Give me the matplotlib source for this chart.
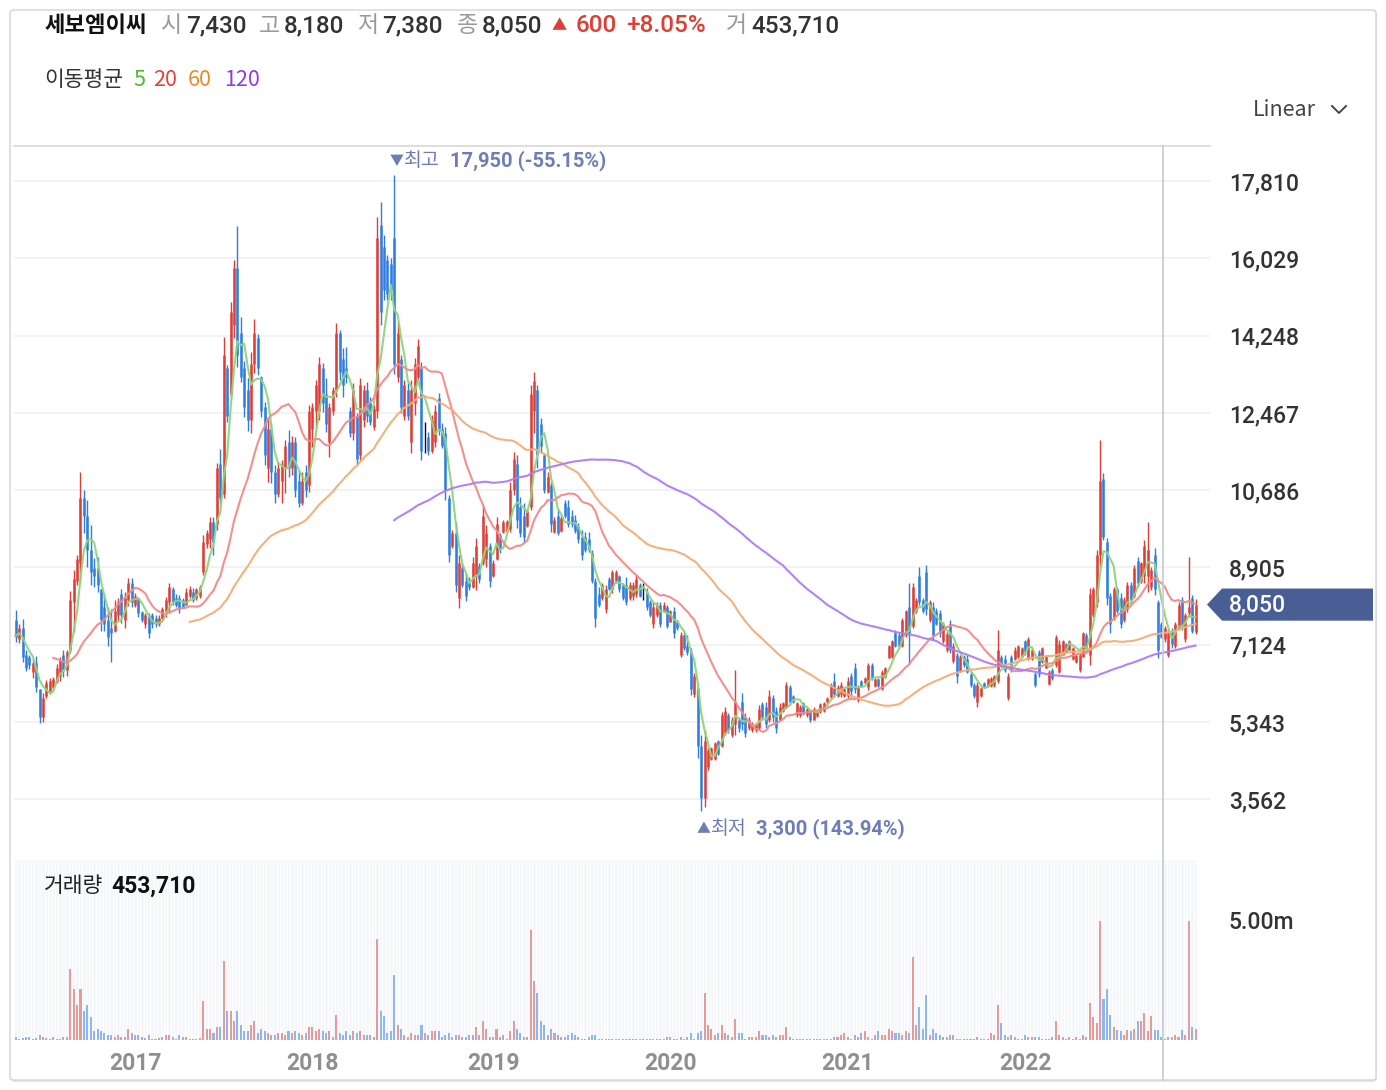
import numpy as np
import pandas as pd
import matplotlib
matplotlib.use('Agg')
import matplotlib.pyplot as plt
import matplotlib.transforms as mtransforms
from matplotlib.patches import FancyBboxPatch, Polygon
from matplotlib.lines import Line2D

plt.rcParams['font.family'] = ['Noto Sans CJK KR', 'DejaVu Sans']
NUM = ['Roboto', 'DejaVu Sans']  # digits

W, H = 1386, 1090

# weekly candles: (open, high, low, close)
# the first 8 weeks sit left of the visible window, they only feed the moving averages
ohlc_warmup = [
    (7200, 7350, 7000, 7100), (7100, 7400, 7050, 7250), (7250, 7600, 7200, 7400), (7400, 7500, 7200, 7350),
    (7350, 7400, 7100, 7200), (7200, 7450, 7150, 7300), (7300, 7600, 7250, 7450), (7450, 7550, 7300, 7400),
]
ohlc_2016 = [
    (7700, 7930, 7190, 7300), (7250, 7600, 7170, 7500), (7500, 7720, 6720, 6850), (6900, 7000, 6520, 6600),
    (6850, 6900, 6560, 6650), (6500, 6800, 6350, 6700), (6700, 6870, 6040, 6150), (6100, 6100, 5330, 5450),
    (5450, 6010, 5350, 5900), (5950, 6310, 5900, 6250),
    (6050, 6350, 6000, 6300), (6150, 6380, 6080, 6330), (6300, 6680, 6250, 6600), (6400, 6840, 6290, 6780),
    (6900, 7000, 6380, 6550), (6550, 7000, 6400, 6950), (7000, 8360, 6930, 8150), (8100, 8850, 7420, 8650),
    (8600, 9200, 8500, 9100), (9000, 11100, 8550, 10500), (10500, 10700, 9700, 10100),
    (10100, 10460, 8920, 9300), (9300, 9880, 8500, 8800), (8900, 9120, 8460, 8700), (8900, 9140, 8330, 8500),
    (8400, 8420, 7450, 7700), (8000, 8300, 7450, 7600), (7700, 8000, 7100, 7300), (7500, 7950, 6730, 7400),
    (7450, 8160, 7420, 7900), (7800, 8200, 7700, 8100),
]
ohlc_2016_17 = [
    (8300, 8410, 7630, 7800), (7700, 8340, 7510, 8200), (8150, 8660, 8020, 8550), (8550, 8660, 7990, 8100),
    (8050, 8320, 7990, 8250), (8200, 8230, 7760, 7850), (7880, 7900, 7650, 7700), (7600, 7860, 7510, 7800),
    (7800, 7860, 7280, 7400), (7800, 7860, 7510, 7600), (7750, 7810, 7530, 7600), (7600, 7810, 7560, 7750),
    (7750, 7990, 7700, 7950), (7900, 8230, 7760, 8150), (8100, 8550, 7860, 8450), (8400, 8460, 8040, 8100),
    (8200, 8300, 8000, 8050), (8200, 8270, 7860, 7950), (8150, 8200, 7970, 8000), (8050, 8430, 8040, 8350),
    (8250, 8480, 8200, 8400), (8350, 8430, 8110, 8150), (8200, 8430, 8160, 8400), (8250, 8500, 8200, 8450),
    (8800, 9650, 8730, 9500), (9450, 9770, 9350, 9700),
]
ohlc_2017_18 = [
    (9550, 10070, 9350, 9950), (9950, 10070, 9190, 9500), (9900, 11310, 9770, 11200), (11300, 11630, 10390, 10500),
    (10600, 14220, 10500, 13800), (13500, 13570, 12260, 12400), (12900, 15020, 12810, 14800), (14500, 15990, 14190, 15800),
    (15800, 16770, 13520, 13800), (14300, 14680, 13180, 13300),
    (13500, 13660, 12370, 12600), (13000, 13270, 12040, 12300), (12300, 13870, 12000, 13600), (13600, 14630, 13390, 14300),
    (14200, 14280, 13340, 13500), (13300, 13320, 12370, 12500), (12600, 12720, 11270, 11500), (11200, 12370, 10880, 12100),
    (12100, 12230, 10850, 11100), (11100, 11270, 10390, 10600),
    (10600, 11340, 10530, 11200), (10900, 11380, 10390, 11300), (11200, 11840, 10620, 11700), (11800, 12070, 10990, 11200),
    (11200, 11940, 11040, 11800), (11800, 11910, 10530, 10700), (10900, 11150, 10300, 10400), (10400, 11100, 10350, 10900),
    (11100, 11270, 10530, 10700), (10800, 12650, 10640, 12500),
    (12100, 12700, 11680, 12600), (12500, 13230, 12120, 13100), (12500, 13760, 12300, 13600), (13500, 13620, 12490, 12700),
    (12900, 13270, 12030, 12200), (11800, 12700, 11450, 12600), (12500, 13060, 12420, 13000), (13000, 14540, 12830, 14300),
    (14300, 14380, 13230, 13400), (13700, 13960, 12830, 13100),
    (13500, 13990, 13160, 13300), (12500, 12600, 11910, 12000), (12000, 13160, 11840, 13000), (12400, 12470, 11270, 11400),
    (11500, 13270, 11380, 13100), (12300, 13110, 12140, 13000), (13000, 13180, 12260, 12400), (12700, 12830, 12190, 12250),
    (12150, 12650, 12070, 12550), (12500, 16980, 12350, 16500),
    (16800, 17330, 14490, 14800), (16300, 16570, 15070, 15300), (16000, 16110, 15070, 15200), (15900, 16040, 15070, 15300),
    (16500, 17950, 13370, 13600), (13300, 14560, 13180, 14300), (13700, 13800, 12460, 12600), (12400, 13230, 12300, 13100),
    (13000, 13160, 12300, 12400), (11800, 13230, 11540, 13000),
    (12700, 13730, 12420, 13600), (13300, 14170, 13160, 14000), (13500, 13640, 11380, 11600), (11900, 12260, 11540, 11900),
    (11900, 12030, 11500, 11600), (11600, 12420, 11540, 12300), (11800, 12650, 11680, 12500), (12800, 12930, 11960, 12100),
    (12100, 12230, 11660, 11700), (12000, 12140, 10460, 10700),
    (10500, 10580, 9030, 9200),
]
ohlc_2018_20 = [
    (9400, 9770, 9360, 9700), (9700, 9950, 8340, 8500), (8200, 9190, 7970, 9000), (8900, 9010, 8460, 8500),
    (8600, 8780, 8130, 8250), (8600, 8690, 8390, 8450), (8450, 9150, 8430, 9000), (8700, 9590, 8390, 9400),
    (8950, 9010, 8550, 8650), (9000, 10350, 8960, 10100),
    (9100, 9880, 8920, 9700), (9400, 9470, 8460, 8600), (8700, 9080, 8690, 9000), (9100, 10070, 9080, 9900),
    (9650, 9700, 9240, 9350), (9720, 10000, 9700, 9950), (9750, 10000, 9700, 9980), (9800, 10880, 9720, 10700),
    (10700, 11570, 10580, 11400), (11300, 11500, 9820, 10000),
    (10300, 10530, 9610, 9700), (10100, 10390, 9490, 9600), (9850, 10230, 9840, 10200), (10300, 13110, 10230, 12900),
    (12500, 13410, 12000, 13200), (13000, 13110, 11200, 11500), (12200, 12350, 11540, 11700), (11500, 11540, 10620, 10700),
    (10650, 11100, 10620, 11000), (10800, 10880, 9720, 9900),
    (9720, 10070, 9700, 10000), (10100, 10230, 9650, 9700), (9750, 10110, 9720, 10050), (10400, 10460, 10050, 10100),
    (10300, 10460, 9840, 9900), (10100, 10230, 9840, 9900), (10000, 10110, 9700, 9750), (9850, 9930, 9470, 9550),
    (9600, 9770, 9080, 9200), (9600, 9720, 9260, 9300),
    (9550, 9720, 9260, 9300), (9250, 9310, 8550, 8600), (8600, 8660, 7530, 7750), (8300, 8450, 8000, 8050),
    (8200, 8550, 8160, 8500), (7950, 8500, 7860, 8400), (8650, 8690, 8390, 8400), (8400, 8850, 8320, 8800),
    (8560, 8850, 8550, 8800), (8700, 8730, 8340, 8400),
    (8500, 8550, 8160, 8200), (8500, 8690, 8040, 8100), (8200, 8570, 8160, 8500), (8250, 8570, 8160, 8500),
    (8300, 8730, 8230, 8650), (8500, 8550, 8230, 8250), (8400, 8550, 8160, 8400), (8350, 8430, 7930, 8000),
    (8100, 8160, 7760, 7800), (7600, 8110, 7510, 8000),
    (7800, 8110, 7760, 8050), (8050, 8110, 7530, 7600), (7900, 8110, 7880, 8050), (8000, 8040, 7510, 7550),
    (7660, 7930, 7650, 7900), (7900, 8000, 7280, 7400),
]
ohlc_2020 = [
    (7650, 7700, 7470, 7500), (6900, 7420, 6840, 7350), (7350, 7420, 7000, 7050), (7100, 7350, 6890, 6950),
    (6950, 7050, 5970, 6100), (6000, 6470, 5920, 6400), (6100, 6150, 4520, 4800), (4800, 5040, 3300, 3600),
    (3600, 5160, 3390, 4900), (4300, 4750, 4240, 4700),
    (4500, 4770, 4470, 4750), (4500, 4880, 4470, 4850), (4900, 4930, 4580, 4600), (4800, 5570, 4770, 5500),
    (5100, 5690, 5040, 5600), (5500, 5550, 5090, 5150), (5050, 5460, 5000, 5400), (5300, 6540, 5040, 5800),
    (5400, 5460, 5120, 5200), (5800, 6010, 5160, 5300),
    (5450, 5550, 5000, 5100), (5200, 5460, 5160, 5400), (5150, 5350, 5120, 5300), (5150, 5320, 5120, 5300),
    (5200, 5740, 5160, 5650), (5750, 5810, 5390, 5450), (5700, 5810, 5210, 5300), (5400, 6080, 5350, 5950),
    (5900, 5970, 5350, 5450), (5600, 5690, 5090, 5200),
    (5400, 5780, 5390, 5700), (5600, 5810, 5580, 5780), (5700, 6270, 5670, 6200), (6150, 6200, 5740, 5800),
    (5950, 5970, 5790, 5800), (5500, 5810, 5470, 5780), (5500, 5740, 5470, 5700), (5780, 5810, 5510, 5550),
    (5500, 5690, 5460, 5650), (5600, 5620, 5350, 5400),
    (5400, 5690, 5390, 5650), (5480, 5620, 5460, 5600), (5580, 5780, 5560, 5750), (5600, 5810, 5580, 5780),
    (5800, 5920, 5790, 5900), (5920, 6250, 5900, 6200), (6300, 6480, 5920, 6000), (5950, 6200, 5920, 6150),
    (6000, 6270, 5920, 6200), (5950, 6150, 5920, 6100),
    (5950, 6380, 5900, 6300), (6400, 6480, 5920, 6050), (6600, 6710, 6010, 6100),
]
ohlc_2021_22 = [
    (5850, 6200, 5810, 6150), (6300, 6310, 6150, 6170), (6250, 6380, 6240, 6360), (6150, 6700, 6080, 6650),
    (6650, 6700, 6310, 6350), (6170, 6360, 6150, 6340), (6340, 6360, 6150, 6170), (6100, 6540, 6080, 6500),
    (6380, 6610, 6360, 6600), (6830, 7120, 6820, 7100),
    (6850, 7230, 6820, 7200), (7400, 7460, 7070, 7100), (7350, 7420, 7050, 7100), (7100, 7740, 7070, 7700),
    (7350, 7930, 7300, 7900), (8000, 8550, 6700, 7400), (7550, 8550, 7510, 8450), (7900, 8200, 7860, 8150),
    (8700, 8920, 8040, 8100), (8150, 8200, 7860, 7900),
    (8800, 8960, 7810, 7950), (7700, 8160, 7650, 8100), (8000, 8110, 7240, 7350), (7900, 7970, 7580, 7600),
    (7850, 7930, 7300, 7400), (7200, 7650, 7170, 7600), (7000, 7420, 6960, 7380), (7600, 7700, 6940, 7000),
    (6750, 7170, 6710, 7100), (6900, 6940, 6240, 6400),
    (6520, 6890, 6500, 6850), (6850, 6890, 6610, 6650), (6800, 6890, 6470, 6500), (6450, 6500, 6160, 6200),
    (6200, 6240, 5900, 5950), (5800, 6270, 5690, 6200), (5950, 6150, 5920, 6120), (6250, 6270, 6130, 6150),
    (6170, 6360, 6150, 6330),
    (6170, 6380, 6150, 6350), (6200, 6430, 6150, 6400), (6300, 7460, 6240, 7000), (6850, 6890, 6610, 6650),
    (6800, 6890, 6500, 6550), (5900, 6470, 5850, 6400), (6850, 6890, 6500, 6550), (6800, 7070, 6780, 7000),
    (6850, 7120, 6820, 7100), (6850, 7070, 6840, 7050),
    (7200, 7230, 6890, 6950), (6800, 7300, 6780, 7250), (6800, 7050, 6780, 7000), (6450, 6500, 6150, 6200),
    (6950, 7000, 6380, 6450), (6720, 7070, 6700, 7050), (6600, 6890, 6590, 6870), (6220, 6550, 6200, 6500),
    (6550, 6590, 6310, 6350), (6650, 7350, 6610, 7300),
    (6500, 7230, 6470, 7150), (6900, 7230, 6890, 7200), (7150, 7160, 6930, 6950), (7000, 7230, 7000, 7200),
    (6800, 7070, 6780, 7050), (6720, 6890, 6700, 6880), (6550, 6940, 6500, 6900), (6850, 7420, 6840, 7400),
    (7350, 7390, 6960, 7000), (6900, 8430, 6660, 8300),
    (7800, 8460, 7760, 8400), (8100, 9310, 8000, 9200),
]
ohlc_2022 = [
    (9200, 11850, 8920, 10900), (10950, 11080, 9540, 9600), (9500, 9580, 8040, 8200), (8250, 8320, 7400, 7600),
    (7750, 8460, 7700, 8400), (8400, 8460, 7860, 7900), (8200, 8320, 7510, 7600), (7700, 8230, 7650, 8150),
    (7950, 8570, 7880, 8500), (8500, 8570, 8090, 8150),
    (8250, 8960, 8200, 8900), (9050, 9150, 8460, 8550), (8600, 9030, 8550, 9000), (8700, 9540, 8550, 9400),
    (8700, 9950, 8340, 9300), (8450, 8920, 8390, 8850), (9200, 9350, 8270, 8400), (8100, 8160, 6820, 7000),
    (7600, 7650, 7280, 7300),
    (7250, 7560, 7190, 7500), (6900, 7470, 6840, 7400), (7450, 7510, 7050, 7150), (7100, 7650, 7050, 7600),
    (7500, 8110, 7470, 8050), (8150, 8230, 7470, 7550), (7250, 7860, 7190, 7800), (7850, 9150, 7770, 8000),
    (8200, 8270, 7400, 7450), (7430, 8180, 7380, 8050),
]

# weekly volume, millions of shares
vol_warmup = [0.10, 0.10, 0.10, 0.10, 0.10, 0.10, 0.10, 0.10]
vol_2016 = [
    0.11, 0.05, 0.08, 0.11, 0.11, 0.05, 0.08, 0.21, 0.11, 0.08,
    0.05, 0.11, 0.05, 0.05, 0.11, 0.11, 2.96, 2.12, 1.46, 2.12, 1.20,
    1.46, 0.97, 0.375, 0.46, 0.375, 0.30, 0.21, 0.21, 0.11, 0.21,
]
vol_2016_17 = [
    0.11, 0.11, 0.46, 0.30, 0.21, 0.21, 0.11, 0.08, 0.21, 0.05,
    0.05, 0.08, 0.11, 0.21, 0.21, 0.11, 0.05, 0.21, 0.11, 0.11,
    0.05, 0.05, 0.05, 0.08, 1.62, 0.46,
]
vol_2017_18 = [
    0.46, 0.30, 0.54, 0.56, 3.30, 1.20, 1.20, 0.80, 1.20, 0.63,
    0.375, 0.375, 0.63, 0.79, 0.30, 0.46, 0.375, 0.30, 0.21, 0.21,
    0.30, 0.30, 0.21, 0.375, 0.30, 0.375, 0.30, 0.21, 0.30, 0.56,
    0.56, 0.375, 0.46, 0.375, 0.30, 0.375, 0.11, 1.04, 0.30, 0.21,
    0.375, 0.21, 0.375, 0.30, 0.375, 0.21, 0.21, 0.21, 0.11, 4.20,
    1.20, 0.98, 0.30, 0.375, 2.70, 0.63, 0.46, 0.21, 0.11, 0.30,
    0.21, 0.21, 0.63, 0.30, 0.21, 0.375, 0.375, 0.375, 0.11, 0.21,
    0.30,
]
vol_2018_20 = [
    0.11, 0.21, 0.21, 0.11, 0.11, 0.21, 0.21, 0.56, 0.21, 0.80,
    0.46, 0.11, 0.11, 0.46, 0.11, 0.21, 0.05, 0.375, 0.80, 0.46,
    0.30, 0.11, 0.11, 4.60, 2.46, 1.96, 0.80, 0.63, 0.21, 0.46,
    0.30, 0.21, 0.11, 0.11, 0.21, 0.30, 0.21, 0.11, 0.05, 0.05,
    0.11, 0.21, 0.21, 0.05, 0.04, 0.04, 0.05, 0.04, 0.04, 0.05,
    0.04, 0.04, 0.04, 0.05, 0.04, 0.04, 0.05, 0.04, 0.04, 0.05,
    0.04, 0.04, 0.05, 0.11, 0.11, 0.05,
]
vol_2020 = [
    0.05, 0.11, 0.05, 0.11, 0.30, 0.05, 0.30, 0.375, 1.96, 0.63,
    0.46, 0.21, 0.30, 0.63, 0.30, 0.21, 0.11, 0.88, 0.30, 0.30,
    0.05, 0.11, 0.11, 0.11, 0.375, 0.21, 0.21, 0.11, 0.21, 0.11,
    0.21, 0.21, 0.56, 0.11, 0.05, 0.05, 0.05, 0.04, 0.04, 0.04,
    0.04, 0.04, 0.05, 0.05, 0.05, 0.05, 0.11, 0.11, 0.21, 0.30,
    0.11, 0.05, 0.21,
]
vol_2021_22 = [
    0.11, 0.30, 0.375, 0.11, 0.05, 0.21, 0.375, 0.21, 0.21, 0.46,
    0.375, 0.30, 0.30, 0.21, 0.375, 0.30, 3.46, 0.63, 1.37, 0.46,
    1.87, 0.21, 0.46, 0.30, 0.21, 0.11, 0.11, 0.21, 0.21, 0.05,
    0.05, 0.05, 0.04, 0.04, 0.04, 0.11, 0.05, 0.05,
    0.05,
    0.30, 0.21, 1.46, 0.71, 0.21, 0.11, 0.21, 0.11, 0.05, 0.05,
    0.21, 0.11, 0.11, 0.11, 0.11, 0.05, 0.05, 0.05, 0.11, 0.79,
    0.21, 0.11, 0.05, 0.11, 0.05, 0.11, 0.05, 0.21, 0.11, 1.54,
    0.97, 0.71,
]
vol_2022 = [
    4.96, 1.71, 2.12, 1.04, 0.54, 0.40, 0.38, 0.21, 0.40, 0.38,
    0.46, 0.79, 0.79, 1.12, 0.38, 0.98, 0.40, 0.40, 0.11,
    0.04, 0.11, 0.11, 0.21, 0.11, 0.40, 0.21, 4.96, 0.54, 0.45371,
]

price_ticks = [3562, 5343, 7124, 8905, 10686, 12467, 14248, 16029, 17810]
year_labels = [2017, 2018, 2019, 2020, 2021, 2022]
ma_periods = [5, 20, 60, 120]
ma_colors = ['#8fd47c', '#f28b85', '#f3ad78', '#ad7cf7']
last_price = 8050

candles = (ohlc_warmup + ohlc_2016 + ohlc_2016_17 + ohlc_2017_18 + ohlc_2018_20
           + ohlc_2020 + ohlc_2021_22 + ohlc_2022)
volumes = np.array(vol_warmup + vol_2016 + vol_2016_17 + vol_2017_18 + vol_2018_20
                   + vol_2020 + vol_2021_22 + vol_2022)

o = np.array([c[0] for c in candles], dtype=float)
hi = np.array([c[1] for c in candles], dtype=float)
lo = np.array([c[2] for c in candles], dtype=float)
cl = np.array([c[3] for c in candles], dtype=float)
n = len(candles)
idx = np.arange(n)
dates = pd.date_range('2016-02-29', periods=n, freq='W-MON')

RED, BLUE = '#df3e35', '#2f7de3'
cols = np.where(cl > o, RED, np.where(cl < o, BLUE, '#111111'))
vcols = np.where(cl >= o, '#e79a9a', '#8db6f2')

fig = plt.figure(figsize=(W / 100, H / 100), dpi=100)


def fx(x):
    return x / W


def fy(y):
    return 1 - y / H


# card frame
fig.patches.append(FancyBboxPatch((fx(11), fy(1082)), fx(1366), 1071 / H,
                                  boxstyle='round,pad=0,rounding_size=0.003',
                                  transform=fig.transFigure, facecolor='#e6e6e6',
                                  edgecolor='none', zorder=-20))
fig.patches.append(FancyBboxPatch((fx(10), fy(1080)), fx(1366), 1070 / H,
                                  boxstyle='round,pad=0,rounding_size=0.003',
                                  transform=fig.transFigure, facecolor='white',
                                  edgecolor='#d4d4d4', lw=1, zorder=-10))

# price panel
x0 = 7.5
xpp = 3.41  # pixels per week
ax = fig.add_axes([fx(14), fy(855), (1210 - 14) / W, (855 - 146) / H])
ax.set_xlim(x0, x0 + (1210 - 14) / xpp)
ax.set_ylim(2281, 18616)
ax.set_facecolor('none')
for s in ['left', 'right', 'bottom']:
    ax.spines[s].set_visible(False)
ax.spines['top'].set_color('#d8d8d8')
ax.spines['top'].set_linewidth(1.2)
ax.set_xticks([])
ax.yaxis.tick_right()
ax.set_yticks(price_ticks)
ax.set_yticklabels([f'{v:,}' for v in price_ticks], fontfamily=NUM, fontweight='medium')
ax.tick_params(axis='y', length=0, pad=13.5, labelsize=16.5, labelcolor='#333333')
ax.grid(axis='y', color='#f1f1f6', lw=1.3)
ax.set_axisbelow(True)

ax.vlines(idx, lo, hi, colors=cols, lw=1.0, zorder=2)
ax.vlines(idx, np.minimum(o, cl), np.maximum(o, cl), colors=cols, lw=1.8, zorder=2)

close_s = pd.Series(cl)
for p, c in zip(ma_periods, ma_colors):
    ax.plot(idx, close_s.rolling(p).mean(), color=c, lw=1.5, alpha=0.95, zorder=3)

# high / low notes
ann = '#6d7eb6'
imax = int(np.argmax(hi))
imin = int(np.argmin(lo))
px_max = ax.transData.transform((imax, hi[imax]))[0]
px_min = ax.transData.transform((imin, lo[imin]))[0]
fig.text((px_max - 5) / W, fy(161), '▼', color=ann, fontsize=10, va='center')
fig.text((px_max + 10) / W, fy(161), '최고', color=ann, fontsize=14, va='center')
fig.text((px_max + 56) / W, fy(161), f'{int(hi[imax]):,} (-55.15%)', color=ann,
         fontsize=14.5, fontweight='bold', fontfamily=NUM, va='center')
fig.text((px_min - 5) / W, fy(829), '▲', color=ann, fontsize=10, va='center')
fig.text((px_min + 10) / W, fy(829), '최저', color=ann, fontsize=14, va='center')
fig.text((px_min + 55) / W, fy(829), f'{int(lo[imin]):,} (143.94%)', color=ann,
         fontsize=14.5, fontweight='bold', fontfamily=NUM, va='center')

# last price tag
blend = mtransforms.blended_transform_factory(fig.transFigure, ax.transData)
hh = 370
tag = Polygon([(fx(1207), last_price), (fx(1222), last_price + hh), (fx(1373), last_price + hh),
               (fx(1373), last_price - hh), (fx(1222), last_price - hh)],
              closed=True, transform=blend, facecolor='#4a5e96', edgecolor='none', clip_on=False)
fig.add_artist(tag)
fig.text(fx(1229), last_price, f'{last_price:,}', transform=blend, color='white',
         fontsize=16.5, fontfamily=NUM, fontweight='medium', va='center')

# volume panel
vax = fig.add_axes([fx(14), fy(1040), (1198 - 14) / W, 180 / H])
vax.set_xlim(x0, x0 + (1198 - 14) / xpp)
vax.set_ylim(0, 7.5)
vax.set_facecolor('#f5f7fb')
for s in vax.spines.values():
    s.set_visible(False)
vax.vlines(idx + 0.5, 0, 7.5, colors='white', lw=0.7, zorder=1)
vax.bar(idx, volumes, width=0.6, color=vcols, zorder=2)
vax.yaxis.tick_right()
vax.set_yticks([5])
vax.set_yticklabels(['5.00m'], fontfamily=NUM, fontweight='medium')
vax.tick_params(axis='y', length=0, pad=22, labelsize=16.5, labelcolor='#333333')
# year label sits on the week that holds 1 January
year_idx = [int(np.argmax(dates.year == y)) - 1 for y in year_labels]
vax.set_xticks(year_idx)
vax.set_xticklabels([str(y) for y in year_labels], fontfamily=NUM, fontweight='bold')
vax.tick_params(axis='x', length=0, pad=9, labelsize=16.5, labelcolor='#8f8f8f')

fig.text(fx(44), fy(886), '거래량', color='#222222', fontsize=15.5, va='center')
fig.text(fx(111), fy(886), '453,710', color='#111111', fontsize=16.5, fontweight='bold',
         fontfamily=NUM, va='center')

# crosshair line
fig.add_artist(Line2D([fx(1163), fx(1163)], [fy(146), fy(1080)], transform=fig.transFigure,
                      color='#c9cdd4', lw=1.3))

# header
head = [
    (44, '세보엠이씨', '#111111', 'bold', 16, None),
    (161, '시', '#999999', 'normal', 16.5, None),
    (186, '7,430', '#333333', 'medium', 17.5, NUM),
    (259, '고', '#999999', 'normal', 16.5, None),
    (284, '8,180', '#333333', 'medium', 17.5, NUM),
    (357, '저', '#999999', 'normal', 16.5, None),
    (382, '7,380', '#333333', 'medium', 17.5, NUM),
    (457, '종', '#999999', 'normal', 16.5, None),
    (482, '8,050', '#333333', 'medium', 17.5, NUM),
    (552, '▲', RED, 'normal', 11, None),
    (576, '600', RED, 'medium', 17.5, NUM),
    (626, '+8.05%', RED, 'medium', 17.5, NUM),
    (726, '거', '#999999', 'normal', 16.5, None),
    (751, '453,710', '#333333', 'medium', 17.5, NUM),
]
for x, s, c, w, fs, fam in head:
    kw = {'fontfamily': fam} if fam else {}
    fig.text(fx(x), fy(26), s, color=c, fontweight=w, fontsize=fs, va='center', **kw)

legend_bits = [
    (44, '이동평균', '#333333'),
    (133, '5', '#4cb92e'),
    (153, '20', '#ee3f36'),
    (188, '60', '#ec8a2a'),
    (224, '120', '#8a3df0'),
]
for x, s, c in legend_bits:
    fig.text(fx(x), fy(80), s, color=c, fontsize=15.5, va='center')

fig.text(fx(1253), fy(110), 'Linear', color='#444444', fontsize=15.5, va='center')
fig.add_artist(Line2D([fx(1332), fx(1339), fx(1346)], [fy(106), fy(113), fy(106)],
                      transform=fig.transFigure, color='#444444', lw=1.4))

fig.savefig('out.png', dpi=100)
